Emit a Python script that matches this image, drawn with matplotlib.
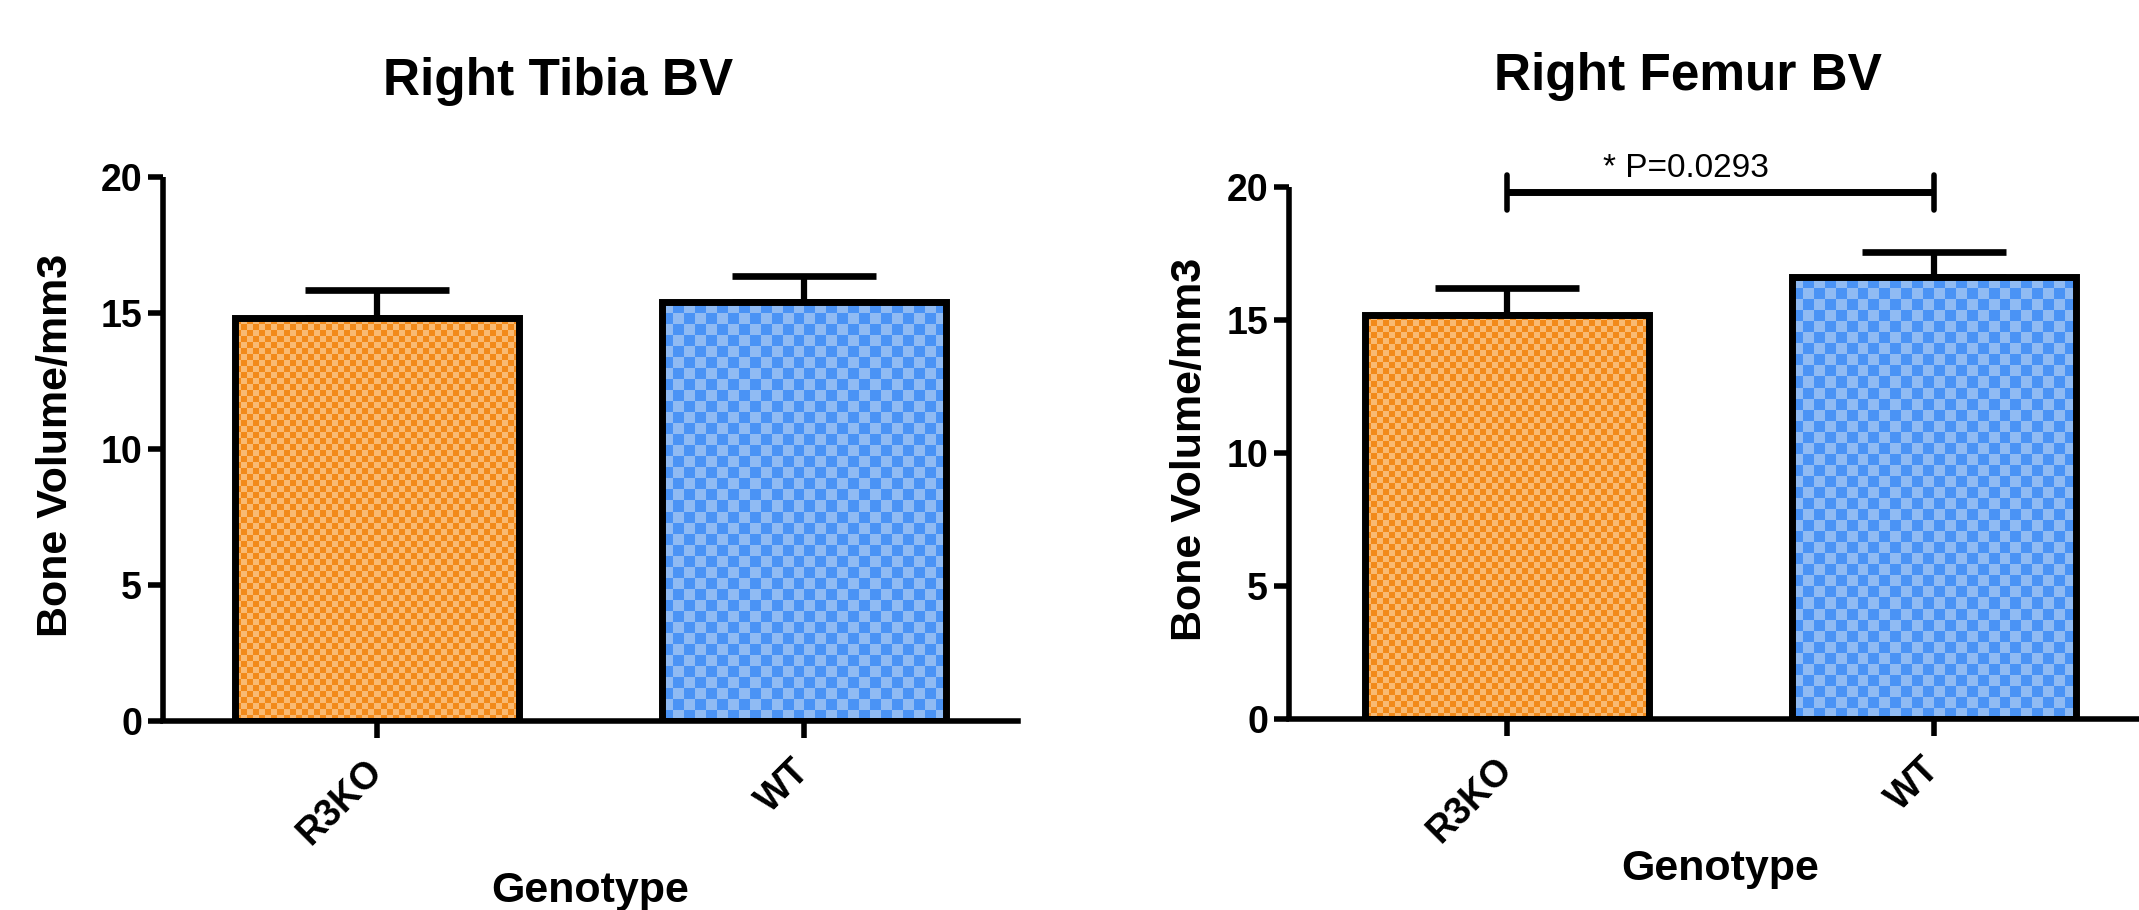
import numpy as np
import matplotlib
matplotlib.use('Agg')
import matplotlib.pyplot as plt
from matplotlib.colors import ListedColormap

plt.rcParams['font.family'] = ['Liberation Sans', 'DejaVu Sans']
plt.rcParams['font.weight'] = 'bold'

# data
genotypes = ['R3KO', 'WT']
tibia_mean = [14.8, 15.4]
tibia_sem = [1.05, 0.96]
femur_mean = [15.2, 16.6]
femur_sem = [1.0, 0.97]
yticks = [0, 5, 10, 15, 20]
p_label = '* P=0.0293'
p_level = 19.8

orange = ('#F28A1A', '#F9BA72', 6)
blue = ('#4A93F5', '#90BBF3', 11)


def checker_fill(ax, bar, dark, light, cell):
    x0, y0, x1, y1 = bar.get_bbox().extents
    (px0, py0), (px1, py1) = ax.transData.transform([[x0, y0], [x1, y1]])
    nx = max(1, int(round(abs(px1 - px0) / cell)))
    ny = max(1, int(round(abs(py1 - py0) / cell)))
    img = np.add.outer(np.arange(ny), np.arange(nx)) % 2
    im = ax.imshow(img, extent=(x0, x1, y0, y1), origin='lower',
                   cmap=ListedColormap([dark, light]), interpolation='nearest',
                   aspect='auto', zorder=2)
    im.set_clip_path(bar)


def draw_panel(ax, means, sems, title, title_xy, ylabel_xy, xlabel_y, xlim):
    x = np.arange(len(genotypes))
    ax.set_xlim(*xlim)
    ax.set_ylim(0, 20)
    ax.errorbar(x, means, yerr=[np.zeros(len(sems)), sems], fmt='none',
                ecolor='black', elinewidth=4.5, capsize=52, capthick=4.8,
                zorder=1)
    bars = ax.bar(x, means, width=0.665, facecolor='none', edgecolor='black',
                  linewidth=5, zorder=3)
    for b, (dark, light, cell) in zip(bars, [orange, blue]):
        checker_fill(ax, b, dark, light, cell)
    ax.set_xlim(*xlim)
    ax.set_ylim(0, 20)

    for side in ['top', 'right']:
        ax.spines[side].set_visible(False)
    for side in ['left', 'bottom']:
        ax.spines[side].set_linewidth(4)
    ax.spines['left'].set_capstyle('butt')

    ax.set_yticks(yticks)
    ax.set_xticks(x)
    ax.set_xticklabels(genotypes, rotation=45, ha='right', va='center',
                       rotation_mode='anchor', fontsize=27, fontweight='bold')
    ax.tick_params(axis='y', length=11, width=4, pad=4, labelsize=27)
    ax.tick_params(axis='x', length=12, width=4, pad=20)

    ax.set_ylabel('Bone Volume/mm3', fontsize=31, fontweight='bold')
    ax.yaxis.set_label_coords(*ylabel_xy)
    ax.text(0.5, xlabel_y, 'Genotype', transform=ax.get_xaxis_transform(),
            ha='center', va='baseline', fontsize=31, fontweight='bold')
    ax.text(title_xy[0], title_xy[1], title, transform=ax.transAxes,
            ha='center', va='baseline', fontsize=37, fontweight='bold')


fig = plt.figure(figsize=(21.39, 9.1), dpi=100)
ax1 = fig.add_axes([0.0762, 0.2077, 0.3997, 0.5978])
ax2 = fig.add_axes([0.6026, 0.2099, 0.4013, 0.5846])

draw_panel(ax1, tibia_mean, tibia_sem, 'Right Tibia BV',
           (0.462, 1.151), (-0.102, 0.506), -0.333, (-0.5, 1.5))
draw_panel(ax2, femur_mean, femur_sem, 'Right Femur BV',
           (0.465, 1.182), (-0.092, 0.506), -0.303, (-0.51, 1.5))

# significance bracket
ax2.plot([0, 1], [p_level, p_level], color='black', lw=5,
         solid_capstyle='butt', clip_on=False, zorder=4)
ax2.vlines([0, 1], p_level - 0.65, p_level + 0.65, color='black', lw=4,
           capstyle='round', clip_on=False, zorder=4)
ax2.text(0.42, p_level + 0.57, p_label, ha='center', va='baseline',
         fontsize=24, fontweight='normal')

fig.savefig('out.png', dpi=100)
